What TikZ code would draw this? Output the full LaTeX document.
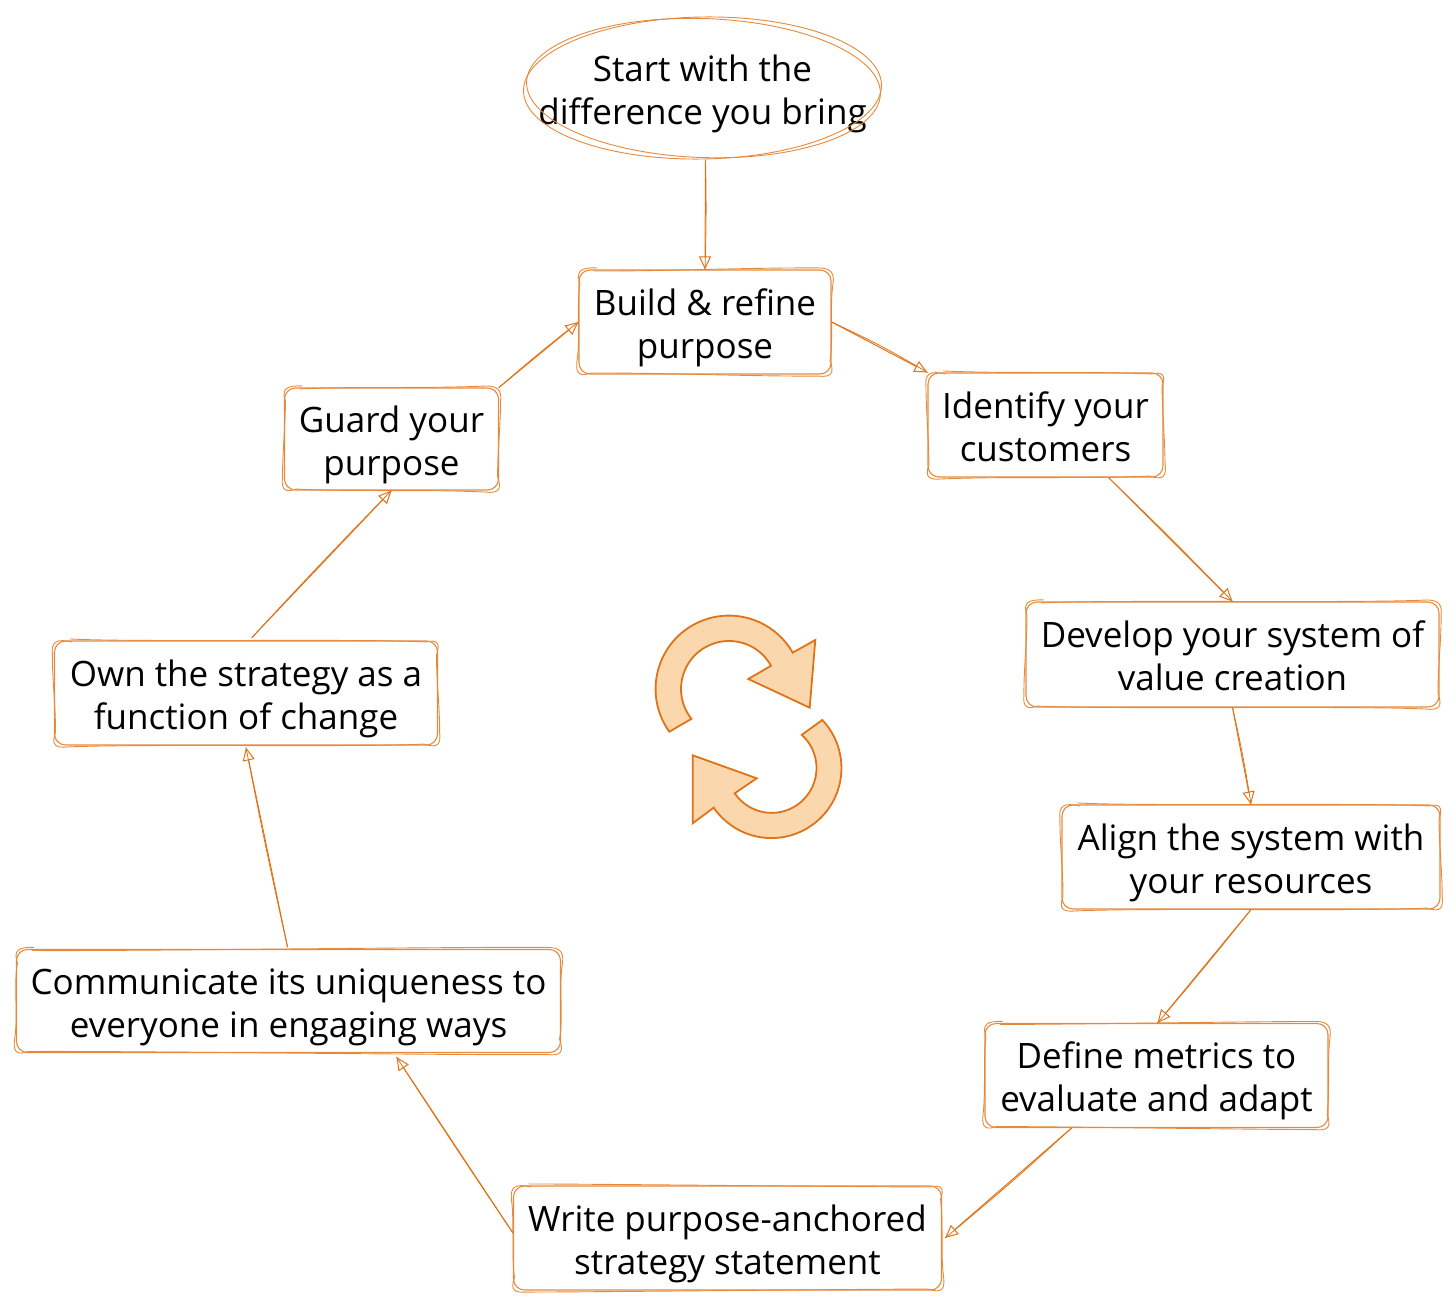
\documentclass[tikz,border=0pt]{standalone}
\usepackage{fontspec}
\setmainfont{Open Sans}
\usetikzlibrary{arrows.meta,calc}
\definecolor{sk}{HTML}{E58A3C}
\definecolor{skd}{HTML}{E07318}
\definecolor{cyc}{HTML}{FAD7AC}
\tikzset{
  x=1pt,y=-1pt,
  textstyle/.style={inner sep=0pt,align=center,font=\fontsize{35}{43}\selectfont,text=black,text height=80pt,text depth=8pt,execute at begin node={\setlength{\baselineskip}{43pt}}},
  boxnode/.style={textstyle,draw=sk,line width=1.1pt,rounded corners=11pt},
  ovalnode/.style={textstyle},
  skstroke/.style={draw=sk,line width=0.9pt,line cap=round,line join=round},
  arrowline/.style={draw=skd,line width=1pt,line cap=round},
  arrowtip/.style={-{Triangle[open,length=13pt,width=12pt,line width=1pt]}},
  cycle arrow/.style={draw=skd,fill=cyc,line width=1.8pt,line join=miter},
}
% second hand-drawn stroke round a box
\newcommand\skbox[3]{%
  \draw[skstroke]
    ([shift={(16,#2)}]#1.north west)
      .. controls ([shift={(80,#3)}]#1.north west) and ([shift={(-80,-#3)}]#1.north east) .. ([shift={(-12,-#2)}]#1.north east)
      .. controls ([shift={(-2,-1)}]#1.north east) and ([shift={(3,2)}]#1.north east) .. ([shift={(#2,14)}]#1.north east)
      .. controls ([shift={(-#3,35)}]#1.north east) and ([shift={(#3,-35)}]#1.south east) .. ([shift={(-#2,-14)}]#1.south east)
      .. controls ([shift={(3,-1)}]#1.south east) and ([shift={(0,3)}]#1.south east) .. ([shift={(-14,#2)}]#1.south east)
      .. controls ([shift={(-80,#3)}]#1.south east) and ([shift={(80,-#3)}]#1.south west) .. ([shift={(12,-#2)}]#1.south west)
      .. controls ([shift={(2,2)}]#1.south west) and ([shift={(-3,0)}]#1.south west) .. ([shift={(-#2,-13)}]#1.south west)
      .. controls ([shift={(#3,-35)}]#1.south west) and ([shift={(-#3,35)}]#1.north west) .. ([shift={(#2,14)}]#1.north west)
      .. controls ([shift={(-3,1)}]#1.north west) and ([shift={(3,-2)}]#1.north west) .. ([shift={(18,-#2)}]#1.north west);
}
% connector: straight stroke with tip plus a slightly bent second stroke
\newcommand\conn[3]{%
  \draw[arrowline,arrowtip] #1 -- #2;
  \draw[arrowline,line width=0.8pt] #1 to[bend left=#3] #2;
}
\begin{document}
\begin{tikzpicture}
\useasboundingbox (0,0) rectangle (1456,1306);
\node[ovalnode,minimum width=359pt,minimum height=142pt] (start) at (702.5,88) {Start with the\\difference you bring};
\draw[skstroke,rotate around={1:(start.center)}] (start.center) ellipse[x radius=179pt,y radius=71pt];
\draw[skstroke,rotate around={-2:(start.center)}] (start.center) ++(1,0) ellipse[x radius=177pt,y radius=69.5pt];

\node[boxnode,minimum width=252pt,minimum height=104pt] (build) at (705,322) {Build \& refine\\purpose};
\node[boxnode,minimum width=235pt,minimum height=104pt] (identify) at (1045.5,425) {Identify your\\customers};
\node[boxnode,minimum width=413pt,minimum height=105pt] (develop) at (1232.5,654.5) {Develop your system of\\value creation};
\node[boxnode,minimum width=378pt,minimum height=104pt] (align) at (1251,857) {Align the system with\\your resources};
\node[boxnode,minimum width=343pt,minimum height=104pt] (define) at (1156.5,1075.5) {Define metrics to\\evaluate and adapt};
\node[boxnode,minimum width=428pt,minimum height=104pt] (write) at (727.5,1238) {Write purpose-anchored\\strategy statement};
\node[boxnode,minimum width=544pt,minimum height=103pt] (comm) at (288.5,1001) {Communicate its uniqueness to\\everyone in engaging ways};
\node[boxnode,minimum width=383pt,minimum height=104pt] (own) at (246,693) {Own the strategy as a\\function of change};
\node[boxnode,minimum width=214pt,minimum height=102pt] (guard) at (391.5,439) {Guard your\\purpose};

\skbox{build}{1.5}{2}
\skbox{identify}{-1.5}{1.5}
\skbox{develop}{1.5}{-2}
\skbox{align}{-1.5}{2}
\skbox{define}{1.5}{1.5}
\skbox{write}{-1.5}{-1.5}
\skbox{comm}{1.5}{2.5}
\skbox{own}{-1.5}{2}
\skbox{guard}{1.5}{-1.5}

\conn{([xshift=3pt,yshift=-1pt]start.south)}{(build.north)}{1.5}
\conn{(build.east)}{(identify.north west)}{3}
\conn{([xshift=63pt]identify.south)}{(develop.north)}{1}
\conn{(develop.south)}{(align.north)}{2}
\conn{(align.south)}{([xshift=1pt]define.north)}{1}
\conn{([xshift=-85pt]define.south)}{([xshift=3pt]write.east)}{1.5}
\conn{([yshift=5pt]write.west)}{([xshift=108pt,yshift=-4pt]comm.south)}{0.5}
\conn{([xshift=-1pt,yshift=2pt]comm.north)}{([yshift=-2pt]own.south)}{0.8}
\conn{([xshift=6pt,yshift=3pt]own.north)}{(guard.south)}{0.8}
\conn{(guard.north east)}{(build.west)}{1.5}

\draw[cycle arrow] (669.3,731.7) arc[start angle=215.6,end angle=29.7,radius=73.4pt] -- (815.3,640) -- (809.7,707.7) -- (748.3,679) -- (771,665.7) arc[start angle=29,end angle=218.5,radius=48pt] -- cycle;
\draw[cycle arrow] (822.3,720) arc[start angle=43.4,end angle=-145.6,radius=70pt] -- (692.7,823.3) -- (692.7,755.3) -- (756.7,778.3) -- (734.7,793.3) arc[start angle=-145.7,end angle=47.9,radius=44.8pt] -- cycle;
\end{tikzpicture}
\end{document}
